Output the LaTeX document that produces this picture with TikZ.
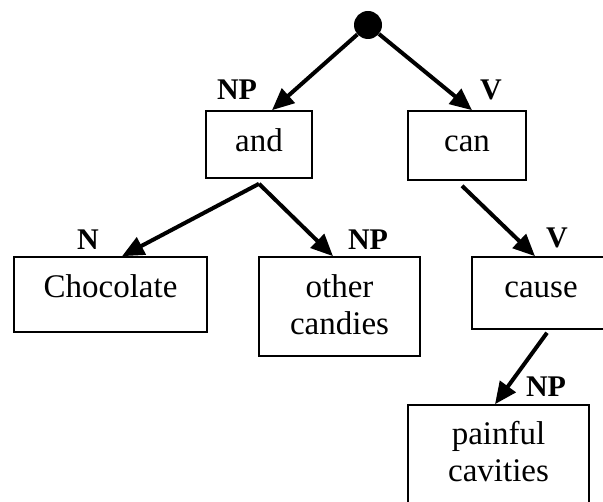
\documentclass[tikz,border=0pt]{standalone}
\usepackage{fontspec}
\setmainfont{Liberation Serif}
\usetikzlibrary{arrows.meta,calc}
\tikzset{
  box/.style={draw, line width=1.6pt, rectangle, inner sep=0pt},
  word/.style={anchor=base, inner sep=0pt, font=\fontsize{33}{37}\selectfont},
  cat/.style={anchor=base, inner sep=0pt, font=\fontsize{30}{33}\selectfont\bfseries},
  arr/.style={line width=4pt, -{Triangle[length=22pt,width=19pt]}}
}
\begin{document}
\begin{tikzpicture}[x=1pt,y=-1pt]
\useasboundingbox (0,0) rectangle (603,502);
\clip (0,0) rectangle (603,502);
% root
\node[circle, fill=black, minimum size=28pt, inner sep=0pt] (root) at (368,25) {};
% boxes
\node[box, minimum width=106pt, minimum height=67pt] (and) at (259,144.5) {};
\node[box, minimum width=118pt, minimum height=69pt] (can) at (467,145.5) {};
\node[box, minimum width=193pt, minimum height=75pt] (choc) at (110.5,294.5) {};
\node[box, minimum width=161pt, minimum height=99pt] (other) at (339.5,306.5) {};
\node[box, minimum width=138pt, minimum height=72pt] (cause) at (541,293) {};
\node[box, minimum width=181pt, minimum height=110pt] (pain) at (498.5,460) {};
% words
\node[word] (andw) at ($(and.north)+(0,41)$) {and};
\node[word] (canw) at ($(can.north)+(0,41)$) {can};
\node[word] (chocw) at ($(choc.north)+(0,41)$) {Chocolate};
\node[word] (otherw1) at ($(other.north)+(0,41)$) {other};
\node[word] (otherw2) at ($(other.north)+(0,78)$) {candies};
\node[word] (causew) at ($(cause.north)+(0,41)$) {cause};
\node[word] (painw1) at ($(pain.north)+(0,40)$) {painful};
\node[word] (painw2) at ($(pain.north)+(0,77)$) {cavities};
% category labels
\node[cat] (lnp1) at (237,100) {NP};
\node[cat] (lv1) at (491,100) {V};
\node[cat] (ln) at (88,250) {N};
\node[cat] (lnp2) at (368,250) {NP};
\node[cat] (lv2) at (557,248) {V};
\node[cat] (lnp3) at (546,397) {NP};
% connectors
\coordinate (andfork) at ($(and.south)+(0,5)$);
\coordinate (canfoot) at ($(can.south)+(-5,5)$);
\coordinate (causefoot) at ($(cause.south)+(6,3)$);
\draw[arr] (root) -- ($(and.north)+(13,0)$);
\draw[arr] (root) -- ($(can.north)+(5,0)$);
\draw[arr] (andfork) -- ($(choc.north)+(11.5,0)$);
\draw[arr] (andfork) -- ($(other.north)+(-6.5,0)$);
\draw[arr] (canfoot) -- ($(cause.north)+(-6,0)$);
\draw[arr] (causefoot) -- ($(pain.north)+(-3.5,0)$);
\end{tikzpicture}
\end{document}
